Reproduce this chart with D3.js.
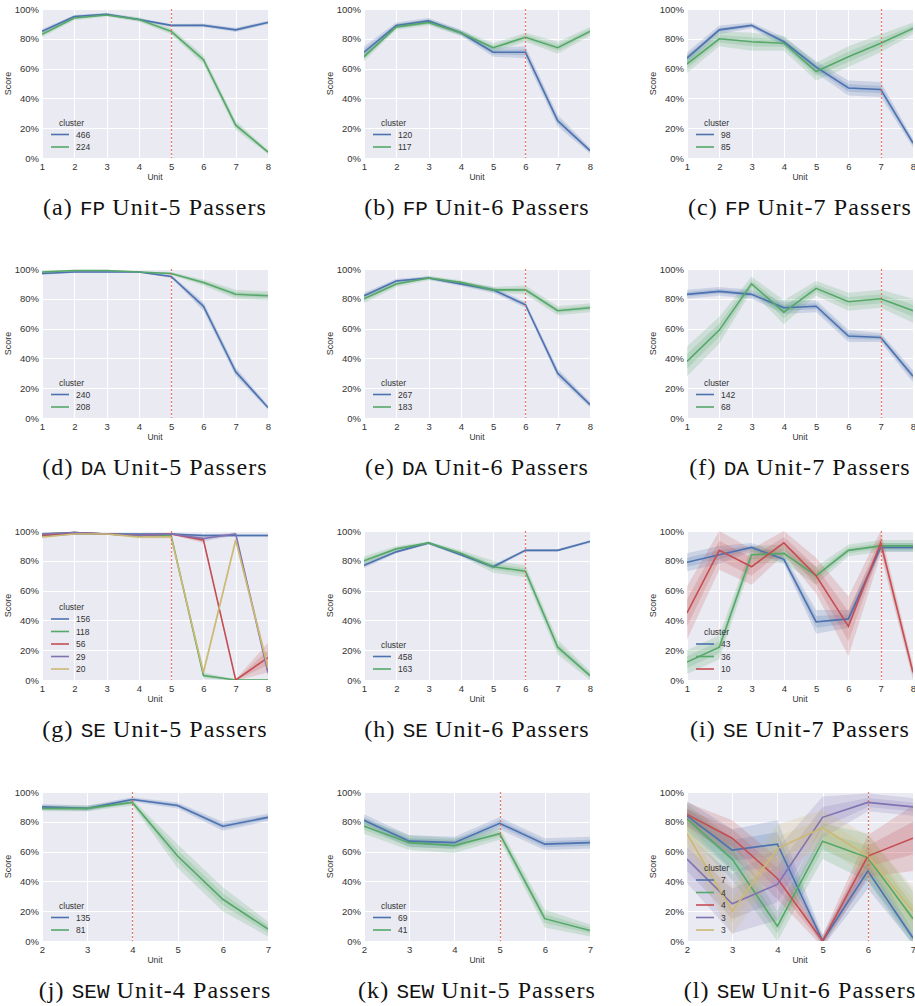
<!DOCTYPE html>
<html>
<head>
<meta charset="utf-8">
<script src="https://cdn.jsdelivr.net/npm/d3@7"></script>
<style>
  body { margin: 0; background: #fff; }
</style>
</head>
<body>
<div id="chart"></div>
<script>
// units on the x axis
const unitsFull = [1, 2, 3, 4, 5, 6, 7, 8];
const unitsSew = [2, 3, 4, 5, 6, 7];
const yTicks = [0, 20, 40, 60, 80, 100];

// (a) FP Unit-5 passers
const fp5_466 = [85, 95, 96.5, 93, 89, 89, 86, 91];
const fp5_466_ci = [1.5, 1, 1, 1, 1, 1.2, 1.5, 1.2];
const fp5_224 = [83, 94, 96, 93, 85, 66, 22, 4];
const fp5_224_ci = [2, 1.5, 1, 1.5, 2, 3, 3, 1.5];
// (b) FP Unit-6 passers
const fp6_120 = [71, 89, 92, 84, 71, 71, 25, 5];
const fp6_120_ci = [4, 2, 2, 2, 3, 4, 4, 2];
const fp6_117 = [68, 88, 91, 84, 74, 81, 74, 85];
const fp6_117_ci = [3, 2, 2, 2, 3, 3, 4, 3];
// (c) FP Unit-7 passers
const fp7_98 = [67, 86, 89, 78, 61, 47, 46, 10];
const fp7_98_ci = [4, 3, 2, 3, 4, 5, 5, 3];
const fp7_85 = [63, 80, 78, 77, 58, 68, 77, 87];
const fp7_85_ci = [6, 5, 6, 5, 6, 7, 6, 4];
// (d) DA Unit-5 passers
const da5_240 = [97, 98, 98, 98, 95, 75, 31, 7];
const da5_240_ci = [1, 0.5, 0.5, 0.5, 1, 3, 3, 1.5];
const da5_208 = [98, 99, 99, 98, 97, 91, 83, 82];
const da5_208_ci = [1, 0.5, 0.5, 0.5, 1, 2, 3, 3];
// (e) DA Unit-6 passers
const da6_267 = [82, 92, 94, 90, 86, 76, 30, 9];
const da6_267_ci = [2, 1.5, 1, 1.5, 2, 2, 3, 2];
const da6_183 = [80, 90, 94, 91, 86, 86, 72, 74];
const da6_183_ci = [3, 2, 1.5, 1.5, 2, 3, 3, 3];
// (f) DA Unit-7 passers
const da7_142 = [83, 85, 83, 74, 75, 55, 54, 28];
const da7_142_ci = [3, 3, 3, 4, 4, 4, 3, 4];
const da7_68 = [38, 59, 90, 71, 87, 78, 80, 72];
const da7_68_ci = [10, 9, 5, 8, 5, 6, 6, 8];
// (g) SE Unit-5 passers
const se5_156 = [97, 98, 98, 98, 98, 97, 97, 97];
const se5_156_ci = [1, 0.5, 0.5, 0.5, 0.5, 1, 1, 1];
const se5_118 = [98, 99, 98, 97, 97, 3, 0, 0];
const se5_118_ci = [1, 0.5, 0.5, 1, 1, 2, 0.5, 0.5];
const se5_56 = [97, 99, 98, 97, 98, 94, 0, 15];
const se5_56_ci = [1, 0.5, 0.5, 1, 0.5, 2, 0.5, 10];
const se5_29 = [98, 99, 98, 97, 98, 95, 98, 5];
const se5_29_ci = [1, 0.5, 0.5, 1, 0.5, 2, 1, 3];
const se5_20 = [96, 98, 98, 96, 96, 5, 94, 8];
const se5_20_ci = [1, 0.5, 0.5, 1, 1, 3, 2, 5];
// (h) SE Unit-6 passers
const se6_458 = [77, 86, 92, 84, 76, 87, 87, 93];
const se6_458_ci = [2, 1, 1, 1, 1.5, 1, 1, 1];
const se6_163 = [80, 88, 92, 85, 76, 73, 22, 3];
const se6_163_ci = [3, 2, 1, 2, 4, 4, 5, 3];
// (i) SE Unit-7 passers
const se7_43 = [79, 84, 89, 81, 39, 41, 89, 89];
const se7_43_ci = [6, 6, 3, 3, 8, 6, 3, 3];
const se7_36 = [12, 22, 84, 85, 70, 87, 90, 90];
const se7_36_ci = [8, 8, 6, 6, 6, 4, 4, 4];
const se7_10 = [45, 87, 76, 92, 70, 36, 92, 5];
const se7_10_ci = [18, 13, 12, 8, 12, 20, 8, 5];
// (j) SEW Unit-4 passers
const sew4_135 = [90, 89, 95, 91, 77, 83];
const sew4_135_ci = [2, 2, 1.5, 2, 3, 2.5];
const sew4_81 = [89, 89, 93, 57, 28, 8];
const sew4_81_ci = [2, 2, 2, 8, 8, 5];
// (k) SEW Unit-5 passers
const sew5_69 = [81, 67, 66, 79, 65, 66];
const sew5_69_ci = [4, 4, 4, 4, 4, 4];
const sew5_41 = [77, 66, 64, 72, 15, 7];
const sew5_41_ci = [5, 5, 5, 4, 6, 4];
// (l) SEW Unit-6 passers
const sew6_7 = [84, 61, 65, 0, 47, 2];
const sew6_7_ci = [10, 14, 16, 4, 12, 4];
const sew6_4g = [82, 55, 10, 67, 56, 15];
const sew6_4g_ci = [10, 14, 10, 12, 16, 18];
const sew6_4r = [85, 69, 42, 0, 57, 69];
const sew6_4r_ci = [8, 12, 14, 4, 14, 22];
const sew6_3p = [55, 25, 38, 83, 93, 90];
const sew6_3p_ci = [16, 20, 24, 14, 6, 6];
const sew6_3y = [72, 20, 62, 76, 57, 20];
const sew6_3y_ci = [14, 16, 16, 12, 14, 16];

const palette = ["#4C72B0", "#55A868", "#C44E52", "#8172B2", "#CCB974"];

const panels = [
    {tag: "a", course: "FP", cut: 5, units: unitsFull, series: [["466", fp5_466, fp5_466_ci], ["224", fp5_224, fp5_224_ci]]},
    {tag: "b", course: "FP", cut: 6, units: unitsFull, series: [["120", fp6_120, fp6_120_ci], ["117", fp6_117, fp6_117_ci]]},
    {tag: "c", course: "FP", cut: 7, units: unitsFull, series: [["98", fp7_98, fp7_98_ci], ["85", fp7_85, fp7_85_ci]]},
    {tag: "d", course: "DA", cut: 5, units: unitsFull, series: [["240", da5_240, da5_240_ci], ["208", da5_208, da5_208_ci]]},
    {tag: "e", course: "DA", cut: 6, units: unitsFull, series: [["267", da6_267, da6_267_ci], ["183", da6_183, da6_183_ci]]},
    {tag: "f", course: "DA", cut: 7, units: unitsFull, series: [["142", da7_142, da7_142_ci], ["68", da7_68, da7_68_ci]]},
    {tag: "g", course: "SE", cut: 5, units: unitsFull, series: [["156", se5_156, se5_156_ci], ["118", se5_118, se5_118_ci], ["56", se5_56, se5_56_ci], ["29", se5_29, se5_29_ci], ["20", se5_20, se5_20_ci]]},
    {tag: "h", course: "SE", cut: 6, units: unitsFull, series: [["458", se6_458, se6_458_ci], ["163", se6_163, se6_163_ci]]},
    {tag: "i", course: "SE", cut: 7, units: unitsFull, series: [["43", se7_43, se7_43_ci], ["36", se7_36, se7_36_ci], ["10", se7_10, se7_10_ci]]},
    {tag: "j", course: "SEW", cut: 4, units: unitsSew, series: [["135", sew4_135, sew4_135_ci], ["81", sew4_81, sew4_81_ci]]},
    {tag: "k", course: "SEW", cut: 5, units: unitsSew, series: [["69", sew5_69, sew5_69_ci], ["41", sew5_41, sew5_41_ci]]},
    {tag: "l", course: "SEW", cut: 6, units: unitsSew, series: [["7", sew6_7, sew6_7_ci], ["4", sew6_4g, sew6_4g_ci], ["4", sew6_4r, sew6_4r_ci], ["3", sew6_3p, sew6_3p_ci], ["3", sew6_3y, sew6_3y_ci]]}
];

// layout
const colX = [42, 364, 687];
const rowY = [9, 269, 531, 792];
const pw = 226, ph = 149;
const sans = "'Liberation Sans', Arial, sans-serif";

const svg = d3.select("#chart").append("svg")
    .attr("width", 915)
    .attr("height", 1006);

const defs = svg.append("defs");
defs.append("clipPath").attr("id", "plotClip")
    .append("rect").attr("width", pw).attr("height", ph);

panels.forEach((p, i) => {
    let g = svg.append("g")
        .attr("transform", `translate(${colX[i % 3]}, ${rowY[Math.floor(i / 3)]})`);

    let x = d3.scaleLinear().domain(d3.extent(p.units)).range([0, pw]);
    let y = d3.scaleLinear().domain([0, 100]).range([ph, 0]);

    g.append("rect")
        .attr("width", pw).attr("height", ph)
        .attr("fill", "#EAEAF2");

    // grid
    g.selectAll(".vgrid").data(p.units).join("line")
        .attr("x1", d => Math.round(x(d)) + 0.5).attr("x2", d => Math.round(x(d)) + 0.5)
        .attr("y1", 0).attr("y2", ph)
        .attr("stroke", "#fff").attr("stroke-width", 1);
    g.selectAll(".hgrid").data(yTicks).join("line")
        .attr("x1", 0).attr("x2", pw)
        .attr("y1", d => Math.round(y(d)) + 0.5).attr("y2", d => Math.round(y(d)) + 0.5)
        .attr("stroke", "#fff").attr("stroke-width", 1);

    let plot = g.append("g").attr("clip-path", "url(#plotClip)");

    // bands (outer and inner interval), then lines
    p.series.forEach((s, k) => {
        let col = palette[k];
        let rows = p.units.map((u, j) => ({u: u, m: s[1][j], c: s[2][j]}));
        [1, 0.5].forEach(f => {
            plot.append("path")
                .datum(rows)
                .attr("fill", col)
                .attr("fill-opacity", 0.2)
                .attr("d", d3.area()
                    .x(d => x(d.u))
                    .y0(d => y(d.m - d.c * f))
                    .y1(d => y(d.m + d.c * f)));
        });
    });
    p.series.forEach((s, k) => {
        let rows = p.units.map((u, j) => ({u: u, m: s[1][j]}));
        plot.append("path")
            .datum(rows)
            .attr("fill", "none")
            .attr("stroke", palette[k])
            .attr("stroke-width", 1.6)
            .attr("d", d3.line().x(d => x(d.u)).y(d => y(d.m)));
    });

    // cut-off unit
    let cx = Math.round(x(p.cut)) + 0.5;
    g.append("line")
        .attr("x1", cx).attr("x2", cx)
        .attr("y1", 0).attr("y2", ph)
        .attr("stroke", "#E8604C")
        .attr("stroke-opacity", 0.85)
        .attr("stroke-width", 1.2)
        .attr("stroke-dasharray", "2,2");

    // axes
    let yAxis = g.append("g")
        .call(d3.axisLeft(y).tickValues(yTicks).tickFormat(d => d + "%").tickSize(0).tickPadding(3));
    let xAxis = g.append("g")
        .attr("transform", `translate(0, ${ph})`)
        .call(d3.axisBottom(x).tickValues(p.units).tickFormat(d3.format("d")).tickSize(0).tickPadding(5));
    [yAxis, xAxis].forEach(a => {
        a.select(".domain").remove();
        a.selectAll("text")
            .style("font-family", sans)
            .style("font-size", "9.5px")
            .attr("fill", "#333");
    });

    g.append("text")
        .attr("x", pw / 2).attr("y", ph + 22)
        .attr("text-anchor", "middle")
        .style("font-family", sans).style("font-size", "8.5px")
        .attr("fill", "#333")
        .text("Unit");
    g.append("text")
        .attr("transform", `translate(-31, ${ph / 2}) rotate(-90)`)
        .attr("text-anchor", "middle")
        .style("font-family", sans).style("font-size", "9px")
        .attr("fill", "#333")
        .text("Score");

    // legend, lower left
    let n = p.series.length;
    let leg = g.append("g").attr("transform", `translate(9, ${ph - 11 - (n - 1) * 12.5})`);
    leg.append("text")
        .attr("x", 8).attr("y", -9)
        .style("font-family", sans).style("font-size", "8.5px")
        .attr("fill", "#333")
        .text("cluster");
    p.series.forEach((s, k) => {
        leg.append("line")
            .attr("x1", 0).attr("x2", 18)
            .attr("y1", k * 12.5).attr("y2", k * 12.5)
            .attr("stroke", palette[k]).attr("stroke-width", 1.6);
        leg.append("text")
            .attr("x", 25).attr("y", k * 12.5 + 3.2)
            .style("font-family", sans).style("font-size", "8.5px")
            .attr("fill", "#333")
            .text(s[0]);
    });

    // caption
    let cap = g.append("text")
        .attr("x", pw / 2).attr("y", ph + 57)
        .attr("text-anchor", "middle")
        .style("font-family", "'Liberation Serif', 'Times New Roman', serif")
        .style("font-size", "24px")
        .style("letter-spacing", "1.1px")
        .attr("fill", "#111");
    cap.append("tspan").text(`(${p.tag}) `);
    cap.append("tspan")
        .style("font-family", "'Liberation Mono', monospace")
        .style("font-size", "21px")
        .style("letter-spacing", "0px")
        .text(p.course);
    cap.append("tspan").text(" Unit-" + p.cut + " Passers");
});
</script>
</body>
</html>
